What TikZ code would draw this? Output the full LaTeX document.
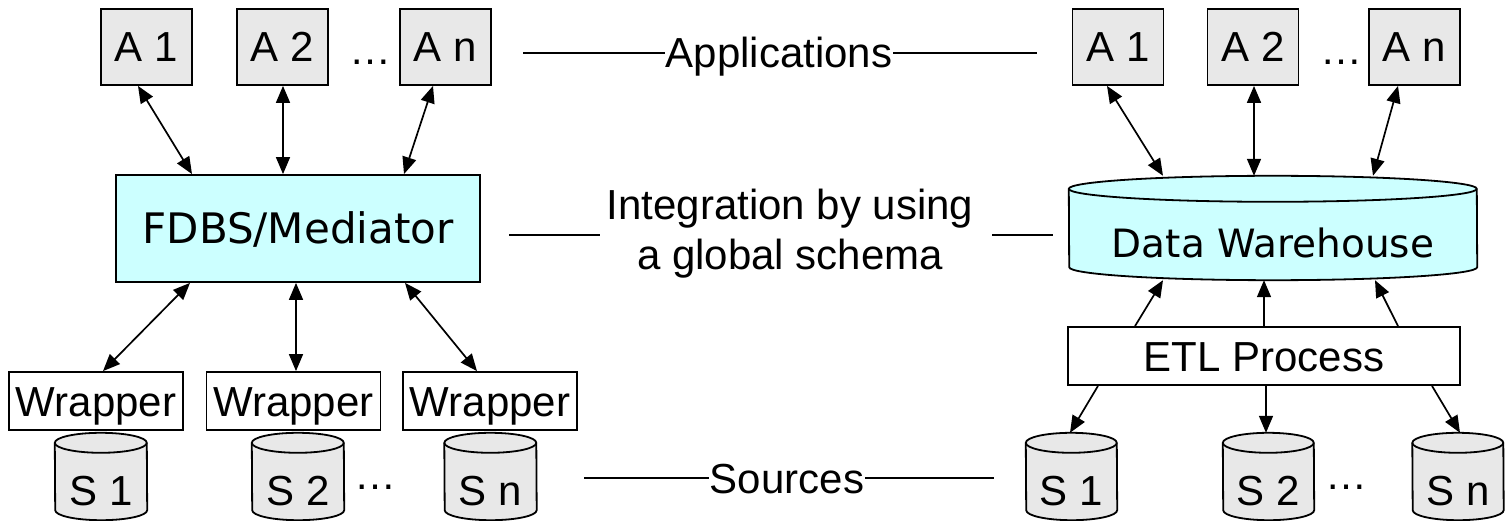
\documentclass[tikz,border=0pt]{standalone}
\usepackage{fontspec}
\setmainfont{Liberation Sans}
\newfontfamily\comicfont{DejaVu Sans}
\usetikzlibrary{arrows.meta,calc,backgrounds}
\definecolor{agray}{RGB}{232,232,232}
\definecolor{sgray}{RGB}{232,232,232}
\definecolor{lcyan}{RGB}{204,255,255}
\newcommand\bigsans{\fontsize{42pt}{50pt}\selectfont}
\newcommand\medfont{\comicfont\fontsize{42pt}{50pt}\selectfont}
\newcommand\dwfont{\comicfont\fontsize{39pt}{46pt}\selectfont}
% cylinder drawn around a (borderless) node: #1 node, #2 half width, #3 ry, #4 fill
\newcommand\cyl[4]{%
  \path[draw=black, line width=1.8pt, fill=#4]
    let \p1=(#1.north west), \p2=(#1.south east) in
    (\x1,\y1-#3) arc[start angle=180,end angle=0,x radius=#2,y radius=#3]
    -- (\x2,\y2+#3) arc[start angle=0,end angle=-180,x radius=#2,y radius=#3]
    -- cycle;
  \path[draw=black, line width=1.8pt]
    let \p1=(#1.north west) in
    (\x1,\y1-#3) arc[start angle=180,end angle=360,x radius=#2,y radius=#3];
}
\begin{document}
\begin{tikzpicture}[x=1pt,y=-1pt,
  every node/.style={font=\bigsans},
  appbox/.style={draw, line width=1.8pt, fill=agray, minimum width=91pt, minimum height=76pt, inner sep=0pt, text height=30pt, text depth=0pt},
  medbox/.style={draw, line width=1.8pt, fill=lcyan, minimum width=364pt, minimum height=107pt, inner sep=0pt, font=\medfont, text height=30pt, text depth=0pt},
  wrapbox/.style={draw, line width=1.8pt, minimum width=174pt, minimum height=58pt, inner sep=0pt, text height=30pt, text depth=0pt},
  etlbox/.style={draw, line width=1.8pt, minimum width=392pt, minimum height=58pt, inner sep=0pt, text height=30pt, text depth=0pt},
  srcnode/.style={minimum width=#1, minimum height=87pt, inner sep=0pt, text height=58pt, text depth=0pt},
  dwnode/.style={minimum width=408pt, minimum height=104pt, inner sep=0pt, font=\dwfont, text height=59pt, text depth=0pt},
  dotsnode/.style={inner sep=0pt},
  lbl/.style={inner sep=1pt, text height=30pt, text depth=0pt},
  rule/.style={line width=1.7pt},
  link/.style={line width=1.7pt, {Triangle[length=17pt,width=14pt]}-{Triangle[length=17pt,width=14pt]}},
  flow/.style={line width=1.7pt, -{Triangle[length=17pt,width=14pt]}}
]
\useasboundingbox (0,0) rectangle (1505,521);

% ---------- left: federated ----------
\node[appbox] (la1) at (146.5,47) {A 1};
\node[appbox] (la2) at (282.5,47) {A 2};
\node[appbox] (lan) at (445.5,47) {A n};
\node[dotsnode] (ldots) at (370,62) {…};

\node[medbox] (fdbs) at (298,228.5) {FDBS/Mediator};

\node[wrapbox] (w1) at (96,401) {Wrapper};
\node[wrapbox] (w2) at (293.5,401) {Wrapper};
\node[wrapbox] (w3) at (490,401) {Wrapper};

\node[srcnode=92pt] (ls1) at (101,476.5) {S 1};
\node[srcnode=92pt] (ls2) at (298,476.5) {S 2};
\node[srcnode=92pt] (lsn) at (490.5,476.5) {S n};
\node[dotsnode] (lsdots) at (375,487) {…};

% ---------- right: data warehouse ----------
\node[appbox] (ra1) at (1118,47) {A 1};
\node[appbox] (ra2) at (1253,47) {A 2};
\node[appbox] (ran) at (1414.5,47) {A n};
\node[dotsnode] (rdots) at (1341,62) {…};

\node[dwnode] (dw) at (1273,228) {Data Warehouse};
\node[etlbox] (etl) at (1264,356) {ETL Process};

\node[srcnode=91pt] (rs1) at (1071.5,476.5) {S 1};
\node[srcnode=91pt] (rs2) at (1268.5,476.5) {S 2};
\node[srcnode=91pt] (rsn) at (1458,476.5) {S n};
\node[dotsnode] (rsdots) at (1346,487) {…};

\begin{scope}[on background layer]
  \cyl{ls1}{46pt}{10pt}{sgray}
  \cyl{ls2}{46pt}{10pt}{sgray}
  \cyl{lsn}{46pt}{10pt}{sgray}
  \cyl{rs1}{45.5pt}{10pt}{sgray}
  \cyl{rs2}{45.5pt}{10pt}{sgray}
  \cyl{rsn}{45.5pt}{10pt}{sgray}
  \cyl{dw}{204pt}{13pt}{lcyan}
\end{scope}

% ---------- middle labels ----------
\node[lbl] (app) at (779,53) {Applications};
\coordinate (appL) at (523,53);
\coordinate (appR) at (1037,53);
\draw[rule] (appL) -- (app.west);
\draw[rule] (app.east) -- (appR);

\node[align=center, inner sep=0pt] (integ) at (790,234) {Integration by using\\a global schema};
\coordinate (intL1) at (509,235);
\coordinate (intL2) at (600,235);
\coordinate (intR1) at (992,235);
\coordinate (intR2) at (1053,235);
\draw[rule] (intL1) -- (intL2);
\draw[rule] (intR1) -- (intR2);

\node[lbl] (src) at (787,478) {Sources};
\coordinate (srcL) at (584,478);
\coordinate (srcR) at (994,478);
\draw[rule] (srcL) -- (src.west);
\draw[rule] (src.east) -- (srcR);

% ---------- connectors, left ----------
\draw[link] ([xshift=-8.5pt]la1.south) -- ([xshift=-106pt]fdbs.north);
\draw[link] ([xshift=0.5pt]la2.south) -- ([xshift=-15pt]fdbs.north);
\draw[link] ([xshift=-12.5pt]lan.south) -- ([xshift=106pt]fdbs.north);

\draw[link] ([xshift=-108pt]fdbs.south) -- ([xshift=7pt]w1.north);
\draw[link] ([xshift=-2pt]fdbs.south) -- ([xshift=2.5pt]w2.north);
\draw[link] ([xshift=107pt]fdbs.south) -- ([xshift=-13pt]w3.north);

% ---------- connectors, right ----------
\draw[link] ([xshift=-11pt]ra1.south) -- ([xshift=-110pt]dw.north);
\draw[link] ([xshift=1pt]ra2.south) -- ([xshift=-19pt]dw.north);
\draw[link] ([xshift=-16.5pt]ran.south) -- ([xshift=100pt]dw.north);

\draw[flow] ([xshift=-129pt]etl.north) -- ([xshift=-110pt]dw.south);
\draw[flow] ([xshift=0pt]etl.north) -- ([xshift=-9pt]dw.south);
\draw[flow] ([xshift=134pt]etl.north) -- ([xshift=102pt]dw.south);

\draw[flow] ([xshift=-166pt]etl.south) -- ([xshift=-1.5pt]rs1.north);
\draw[flow] ([xshift=2pt]etl.south) -- ([xshift=-2.5pt]rs2.north);
\draw[flow] ([xshift=168pt]etl.south) -- ([xshift=2pt]rsn.north);
\end{tikzpicture}
\end{document}
